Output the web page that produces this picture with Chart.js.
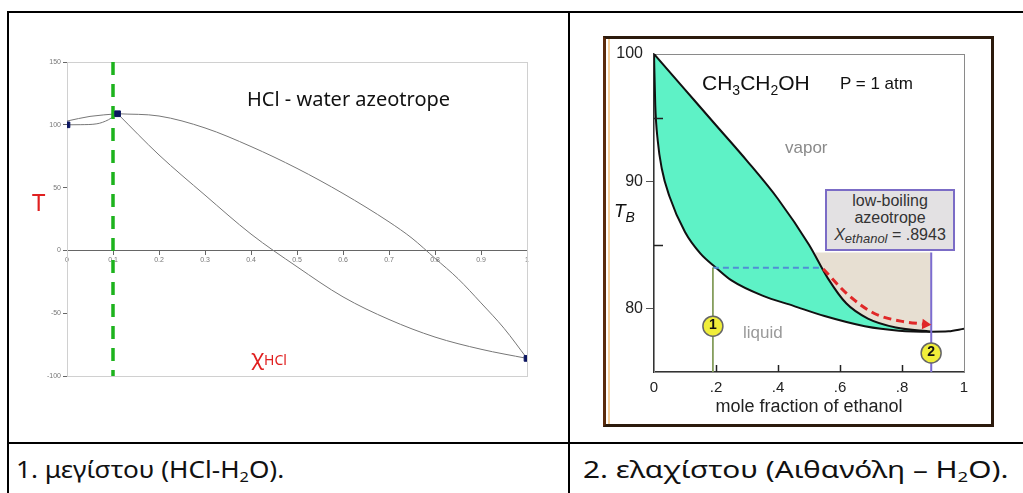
<!DOCTYPE html>
<html>
<head>
<meta charset="utf-8">
<script src="https://cdn.jsdelivr.net/npm/chart.js@4.4.0/dist/chart.umd.min.js"></script>
<style>
  body { margin:0; width:1023px; height:493px; overflow:hidden; background:#fff; position:relative; font-family:"Liberation Sans", Arial, sans-serif; }
  .ln { position:absolute; background:#000; }
  .txt { position:absolute; white-space:nowrap; line-height:1; }
  canvas { position:absolute; }
  .cap { position:absolute; font-family:"Noto Sans", sans-serif; font-size:24px; color:#111; white-space:nowrap; transform-origin:0 50%; }
  .num { position:absolute; width:20px; height:20px; margin:-10px 0 0 -10px; text-align:center; line-height:20px; font:bold 14px "Liberation Sans", Arial, sans-serif; color:#111; }
</style>
</head>
<body>
<!-- lineas de la tabla -->
<div class="ln" style="left:7px;top:11px;width:1100px;height:2px"></div>
<div class="ln" style="left:7px;top:11px;width:2px;height:500px"></div>
<div class="ln" style="left:568px;top:11px;width:2px;height:500px"></div>
<div class="ln" style="left:7px;top:442px;width:1100px;height:2px"></div>

<!-- grafico izquierdo -->
<canvas id="grafHcl" width="556" height="426" style="left:10px;top:14px;width:556px;height:426px"></canvas>
<div class="txt" style="left:247px;top:89px;font-family:'Noto Sans',sans-serif;font-size:20px;color:#111">HCl - water azeotrope</div>
<div class="txt" style="left:32px;top:190px;font-family:'Noto Sans',sans-serif;font-size:24px;color:#e02020">T</div>
<div class="txt" style="left:251px;top:345px;font-family:'Noto Sans',sans-serif;font-size:22px;color:#e02020">χ<span style="font-size:14px">HCl</span></div>

<!-- marco del grafico derecho -->
<div style="position:absolute;left:603px;top:36px;width:391px;height:391px;box-sizing:border-box;border:3px solid #2b1a0c;border-left-color:#5a2a0c"></div>
<div style="position:absolute;left:608px;top:39px;width:2px;height:385px;background:#f5cf9c"></div>
<canvas id="grafEtanol" width="382" height="382" style="left:610px;top:39px;width:382px;height:382px"></canvas>
<div class="txt" style="left:702px;top:72px;font-size:21px;color:#111">CH<sub style="font-size:14px;vertical-align:-5px">3</sub>CH<sub style="font-size:14px;vertical-align:-5px">2</sub>OH</div>
<div class="txt" style="left:840px;top:75px;font-size:17px;color:#111">P = 1 atm</div>
<div class="txt" style="left:785px;top:139px;font-size:17px;color:#8a8a8a">vapor</div>
<div class="txt" style="left:743px;top:324px;font-size:17px;color:#9a9a9a">liquid</div>
<div class="txt" style="left:614px;top:201px;font-size:19px;font-style:italic;color:#111">T<sub style="font-size:14px;vertical-align:-5px">B</sub></div>
<div style="position:absolute;left:825px;top:189px;width:130px;height:62px;box-sizing:border-box;border:2px solid #7b6cc6;background:#e3e1e3;color:#333;font-size:16px;text-align:center;line-height:17px;padding-top:1px">
  low-boiling<br>azeotrope<br><i>X<sub style="font-size:13px;vertical-align:-3px">ethanol</sub></i> = .8943
</div>
<div class="num" id="num1">1</div>
<div class="num" id="num2">2</div>

<!-- leyendas -->
<div class="cap" style="left:16px;top:452px;transform:scaleX(1.09)">1. μεγίστου (HCl-H<sub style="font-size:15px;vertical-align:-4px">2</sub>O).</div>
<div class="cap" style="left:583px;top:452px;transform:scaleX(1.24)">2. ελαχίστου (Αιθανόλη – H<sub style="font-size:15px;vertical-align:-4px">2</sub>O).</div>

<script>
// ---- datos HCl - agua (maximo) ----
let hclDewX = [0.11, 0.2, 0.3, 0.4, 0.5, 0.6, 0.7, 0.75, 0.8, 0.85, 0.9, 0.95, 1];
let hclDewT = [108.8, 107, 97.5, 82.7, 65.3, 45.3, 22.7, 9.7, -6.3, -22.5, -41.8, -62, -86];
let hclBubX = [0.11, 0.2, 0.3, 0.4, 0.5, 0.6, 0.7, 0.8, 0.9, 1];
let hclBubT = [108.8, 76, 44, 13, -13, -37, -55, -69, -78.7, -86];
let hclLeftUpX = [0, 0.05, 0.11];
let hclLeftUpT = [103, 106.7, 108.8];
let hclLeftLoX = [0, 0.03, 0.065, 0.09, 0.11];
let hclLeftLoT = [100, 100.1, 100.8, 104, 108.8];
let hclMarkX = [0, 0.11, 1];
let hclMarkT = [100, 108.8, -86];
let hclAzeoX = 0.1;

// ---- datos etanol - agua (minimo) ----
let vapX = [0, 0.1, 0.2, 0.3, 0.4, 0.5, 0.56, 0.62, 0.69, 0.78, 0.8943];
let vapT = [100, 97.2, 94.4, 91.6, 88.6, 85.0, 82.4, 80.4, 79.2, 78.5, 78.17];
let liqX = [0, 0.004, 0.012, 0.025, 0.05, 0.1, 0.15, 0.2, 0.25, 0.35, 0.45, 0.55, 0.68, 0.79, 0.8943, 0.95, 1];
let liqT = [100, 96, 93.2, 91, 88.8, 86, 84.3, 83.2, 82.2, 81.0, 80.2, 79.4, 78.6, 78.25, 78.17, 78.2, 78.4];
let beigeX = [0.52, 0.8943];
let beigeT = [84.4, 84.4];
let tieX = [0.19, 0.535];
let tieT = [83.2, 83.2];
let flechaX = [0.546, 0.626, 0.711, 0.796, 0.875];
let flechaT = [83.1, 81.07, 79.6, 79.0, 78.75];
let azeoX = 0.8943;
let puntosX = [0.19, 0.894];
let puntosT = [78.6, 76.5];

//Para juntar x e y
function pts(xs, ys) {
  return xs.map(function(x, i) { return {x: x, y: ys[i]}; });
}

//Marco alrededor del area
function marco(id, color) {
  return {
    id: id,
    beforeDatasetsDraw: function(chart) {
      let a = chart.chartArea, ctx = chart.ctx;
      ctx.save();
      ctx.strokeStyle = color;
      ctx.lineWidth = 1;
      ctx.strokeRect(a.left + 0.5, a.top + 0.5, a.right - a.left, a.bottom - a.top);
      ctx.restore();
    }
  };
}

//Grafico HCl
let grafHcl = new Chart(document.getElementById("grafHcl"), {
  type: 'line',
  data: {
    datasets: [
      { data: pts(hclMarkX, hclMarkT), showLine: false, pointStyle: 'rect', pointRadius: 4,
        backgroundColor: '#0b1560', borderColor: '#0b1560' },
      { data: [{x: hclAzeoX, y: 150}, {x: hclAzeoX, y: -100}], borderColor: '#1db31d', borderWidth: 3.5,
        borderDash: [13, 9], pointRadius: 0 },
      { data: pts(hclDewX, hclDewT), borderColor: '#777', borderWidth: 1, pointRadius: 0, cubicInterpolationMode: 'monotone' },
      { data: pts(hclBubX, hclBubT), borderColor: '#777', borderWidth: 1, pointRadius: 0, cubicInterpolationMode: 'monotone' },
      { data: pts(hclLeftUpX, hclLeftUpT), borderColor: '#777', borderWidth: 1, pointRadius: 0, cubicInterpolationMode: 'monotone' },
      { data: pts(hclLeftLoX, hclLeftLoT), borderColor: '#777', borderWidth: 1, pointRadius: 0, cubicInterpolationMode: 'monotone' }
    ]
  },
  options: {
    responsive: false,
    animation: false,
    events: [],
    layout: { padding: { left: 35, top: 48, right: 39, bottom: 64 } },
    plugins: { legend: { display: false }, tooltip: { enabled: false } },
    scales: {
      x: {
        type: 'linear', min: 0, max: 1, position: { y: 0 },
        ticks: { stepSize: 0.1, color: '#777', font: { size: 7 }, padding: 1,
          callback: function(v) { return v === 0 ? '0' : (v === 1 ? '1' : v.toFixed(1)); } },
        grid: { drawOnChartArea: false, tickLength: 4, color: '#666' },
        border: { color: '#666' }
      },
      y: {
        min: -100, max: 150,
        ticks: { stepSize: 50, color: '#777', font: { size: 7 }, padding: 2 },
        grid: { drawOnChartArea: false, tickLength: 4, color: '#666' },
        border: { color: '#555' },
        afterFit: function(s) { s.width = 22; }
      }
    }
  },
  plugins: [marco('marcoHcl', '#d0d0d0')]
});

//Marcas hacia adentro del grafico de etanol
let ticksAdentro = {
  id: 'ticksAdentro',
  afterDatasetsDraw: function(chart) {
    let ctx = chart.ctx, a = chart.chartArea, sx = chart.scales.x, sy = chart.scales.y;
    ctx.save();
    ctx.strokeStyle = '#222';
    ctx.lineWidth = 1.5;
    [0.2, 0.4, 0.6, 0.8].forEach(function(v) {
      let px = Math.round(sx.getPixelForValue(v)) + 0.5;
      ctx.beginPath(); ctx.moveTo(px, a.bottom); ctx.lineTo(px, a.bottom - 7); ctx.stroke();
    });
    [95, 85].forEach(function(v) {
      let py = Math.round(sy.getPixelForValue(v)) + 0.5;
      ctx.beginPath(); ctx.moveTo(a.left, py); ctx.lineTo(a.left + 9, py); ctx.stroke();
    });
    ctx.restore();
  }
};

//Grafico etanol
let grafEtanol = new Chart(document.getElementById("grafEtanol"), {
  type: 'line',
  data: {
    datasets: [
      { data: pts(puntosX, puntosT), showLine: false, pointRadius: 10, backgroundColor: '#f0ee3a',
        borderColor: '#666', borderWidth: 1.5 },
      { data: pts(flechaX, flechaT), borderColor: '#e02828', borderWidth: 3, borderDash: [8, 5],
        cubicInterpolationMode: 'monotone',
        pointRadius: [0, 0, 0, 0, 6], pointStyle: 'triangle', pointRotation: 95,
        backgroundColor: '#e02828', pointBorderWidth: 0 },
      { data: [{x: azeoX, y: 84.4}, {x: azeoX, y: 75}], borderColor: '#7b6cd0', borderWidth: 2, pointRadius: 0 },
      { data: [{x: tieX[0], y: tieT[0]}, {x: tieX[0], y: 75}], borderColor: '#7f9a55', borderWidth: 1, pointRadius: 0 },
      { data: pts(tieX, tieT), borderColor: '#4f8fd6', borderWidth: 2, borderDash: [6, 4], pointRadius: 0 },
      { data: pts(liqX, liqT), borderColor: '#111', borderWidth: 2, pointRadius: 0, cubicInterpolationMode: 'monotone' },
      { data: pts(vapX, vapT), borderColor: '#111', borderWidth: 2, pointRadius: 0, cubicInterpolationMode: 'monotone',
        fill: 5, backgroundColor: '#5ef2c6' },
      { data: pts(beigeX, beigeT), borderWidth: 0, pointRadius: 0, fill: 6, backgroundColor: '#e7dfd2' }
    ]
  },
  options: {
    responsive: false,
    animation: false,
    events: [],
    layout: { padding: { left: 0, top: 15, right: 28, bottom: 0 } },
    plugins: { legend: { display: false }, tooltip: { enabled: false } },
    scales: {
      x: {
        type: 'linear', min: 0, max: 1,
        ticks: { stepSize: 0.2, color: '#222', font: { size: 15, family: 'Liberation Sans' }, padding: 7,
          callback: function(v) { return v === 0 ? '0' : (v === 1 ? '1' : v.toFixed(1).replace(/^0/, '')); } },
        grid: { drawOnChartArea: false, drawTicks: false },
        border: { color: '#333', width: 1.5 },
        title: { display: true, text: 'mole fraction of ethanol', color: '#222',
          font: { size: 18, family: 'Liberation Sans' }, padding: { top: 2, bottom: 3 } },
        afterFit: function(s) { s.height = 49; }
      },
      y: {
        min: 75, max: 100,
        ticks: { stepSize: 5, color: '#222', font: { size: 16, family: 'Liberation Sans' }, padding: 3,
          callback: function(v) { return v % 10 === 0 ? String(v) : ''; } },
        grid: { drawOnChartArea: false, tickLength: 8,
          color: function(c) { return (c.tick && c.tick.value % 10 === 0 && c.tick.value !== 100) ? '#555' : 'rgba(0,0,0,0)'; } },
        border: { color: '#333', width: 1.5 },
        afterFit: function(s) { s.width = 44; }
      }
    }
  },
  plugins: [marco('marcoEtanol', '#8a8a8a'), ticksAdentro]
});

//Numeros dentro de los circulos
let cv = document.getElementById("grafEtanol");
["num1", "num2"].forEach(function(id, i) {
  let el = document.getElementById(id);
  el.style.left = (cv.offsetLeft + grafEtanol.scales.x.getPixelForValue(puntosX[i])) + 'px';
  el.style.top = (cv.offsetTop + grafEtanol.scales.y.getPixelForValue(puntosT[i])) + 'px';
});
</script>
</body>
</html>
